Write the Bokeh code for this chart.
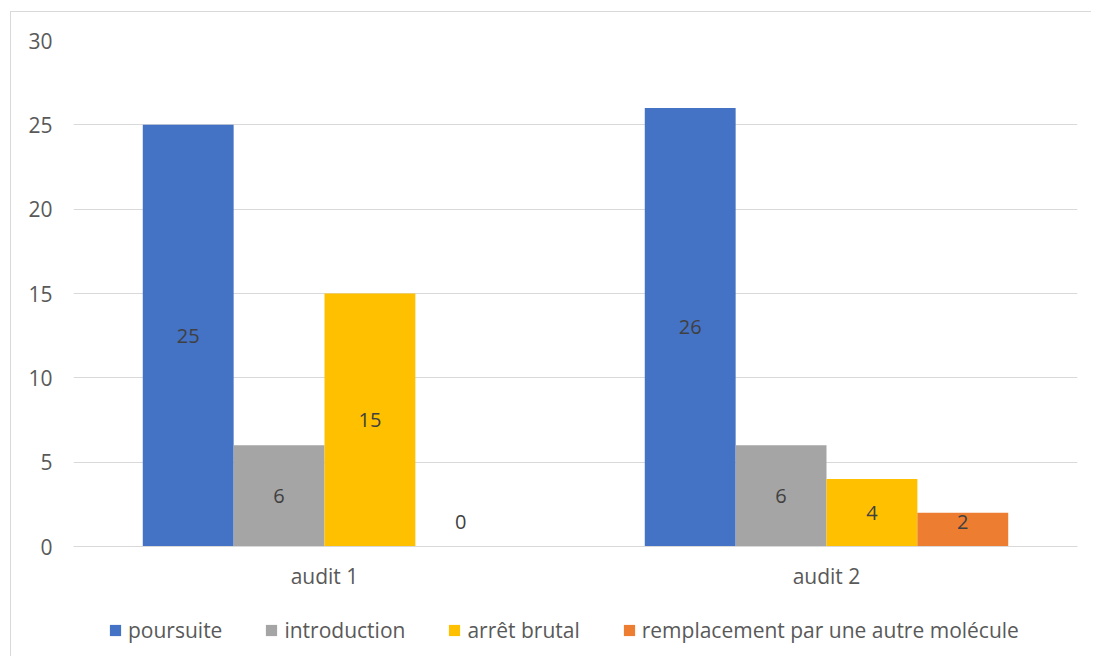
from bokeh.plotting import figure
from bokeh.models import ColumnDataSource, Legend, LegendItem, FactorRange, Range1d
from bokeh.layouts import column
from bokeh.transform import dodge
from bokeh.core.properties import value
from bokeh.embed import file_html
from bokeh.resources import INLINE

categories = ["audit 1", "audit 2"]
series_names = ["poursuite", "introduction", "arrêt brutal", "remplacement par une autre molécule"]
poursuite = [25, 26]
introduction = [6, 6]
arret_brutal = [15, 4]
remplacement = [0, 2]
y_ticks = [0, 5, 10, 15, 20, 25, 30]

series_values = [poursuite, introduction, arret_brutal, remplacement]
colors = ["#4472C4", "#A5A5A5", "#FFC000", "#ED7D31"]

FONT = "Open Sans"
BAR_W = 0.181
LABEL_MIN = 1.48

p = figure(x_range=FactorRange(*categories), y_range=(0, 30), width=1080, height=580,
           output_backend="svg", toolbar_location=None,
           min_border_left=62, min_border_right=14, min_border_top=28, min_border_bottom=42)
p.x_range.range_padding = 0
p.outline_line_color = None
p.background_fill_color = "white"
p.border_fill_color = "white"

# legend-only figure below the chart
lg = figure(x_range=FactorRange(*categories), y_range=Range1d(100, 200), width=1080, height=64,
            output_backend="svg", toolbar_location=None, x_axis_type=None, y_axis_type=None,
            min_border=0)
lg.outline_line_color = None
lg.xgrid.grid_line_color = None
lg.ygrid.grid_line_color = None

items = []
for i, (name, vals, col) in enumerate(zip(series_names, series_values, colors)):
    off = (i - 1.5) * BAR_W
    src = ColumnDataSource(dict(x=categories, top=vals,
                                ly=[max(v / 2, LABEL_MIN) for v in vals],
                                txt=[str(v) for v in vals]))
    p.vbar(x=dodge("x", off, range=p.x_range), top="top", width=BAR_W, source=src,
           fill_color=col, line_color=None)
    p.text(x=dodge("x", off, range=p.x_range), y="ly", text="txt", source=src,
           text_font=value(FONT), text_font_size="20px", text_color="#404040",
           text_align="center", text_baseline="middle")
    r2 = lg.vbar(x="x", top="top", width=BAR_W, source=src, fill_color=col, line_color=None)
    items.append(LegendItem(label=name, renderers=[r2]))

p.xgrid.grid_line_color = None
p.ygrid.grid_line_color = "#D9D9D9"
p.ygrid.grid_line_width = 1

p.yaxis.ticker = y_ticks
p.yaxis.axis_line_color = None
p.yaxis.major_tick_line_color = None
p.yaxis.minor_tick_line_color = None
p.yaxis.major_tick_out = 0
p.yaxis.major_label_standoff = 21
p.yaxis.major_label_text_font = FONT
p.yaxis.major_label_text_font_size = "21px"
p.yaxis.major_label_text_color = "#595959"

p.xaxis.axis_line_color = "#D9D9D9"
p.xaxis.axis_line_width = 1
p.xaxis.major_tick_line_color = None
p.xaxis.minor_tick_line_color = None
p.xaxis.major_tick_out = 0
p.xaxis.major_label_standoff = 15
p.xaxis.major_label_text_font = FONT
p.xaxis.major_label_text_font_size = "21px"
p.xaxis.major_label_text_color = "#595959"

legend = Legend(items=items, orientation="horizontal", location=(35, 12),
                glyph_width=14, glyph_height=14, label_standoff=6, spacing=42,
                padding=0, margin=0, border_line_color=None, background_fill_alpha=0,
                label_text_font=FONT, label_text_font_size="21px", label_text_color="#595959")
lg.add_layout(legend, "center")

layout = column(p, lg, spacing=0)
layout.margin = (11, 0, 0, 10)
layout.styles = {"border-left": "1px solid #D9D9D9", "border-top": "1px solid #D9D9D9"}

open("out.html", "w").write(file_html(layout, INLINE))
